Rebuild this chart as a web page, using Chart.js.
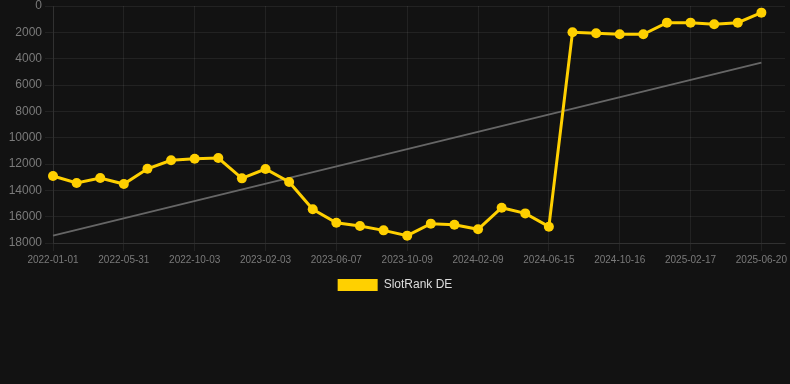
<!DOCTYPE html>
<html>
<head>
<meta charset="utf-8">
<script src="https://cdn.jsdelivr.net/npm/chart.js@4.4.0/dist/chart.umd.min.js"></script>
<style>
  html, body { margin: 0; padding: 0; background: #121212; }
  #wrap { width: 790px; height: 301px; position: relative; }
</style>
</head>
<body>
<div id="wrap"><canvas id="c"></canvas></div>
<script>
const dates = [
  "2022-01-01","2022-02-20","2022-04-11","2022-05-31","2022-07-11","2022-08-22",
  "2022-10-03","2022-11-13","2022-12-24","2023-02-03","2023-03-16","2023-04-27",
  "2023-06-07","2023-07-18","2023-08-29","2023-10-09","2023-11-19","2023-12-30",
  "2024-02-09","2024-03-21","2024-05-04","2024-06-15","2024-07-26","2024-09-05",
  "2024-10-16","2024-11-26","2025-01-07","2025-02-17","2025-03-30","2025-05-10",
  "2025-06-20","2025-07-31"
];
const slotRankDE = [
  12910, 13440, 13060, 13520, 12360, 11720, 11600, 11545, 13090, 12380, 13370, 15440,
  16460, 16710, 17040, 17440, 16530, 16610, 16960, 15320, 15750, 16760,
  2000, 2075, 2150, 2150, 1265, 1265, 1390, 1265, 505, null
];
const trendStart = 17440;
const trendEnd = 4300;
const trend = dates.map((d, i) => i === 0 ? trendStart : (i === 30 ? trendEnd : null));
const yTicks = [0, 2000, 4000, 6000, 8000, 10000, 12000, 14000, 16000, 18000];

const FONT = "'Liberation Sans', Arial, Helvetica, sans-serif";
const gridColor = 'rgba(255,255,255,0.07)';

new Chart(document.getElementById('c'), {
  type: 'line',
  data: {
    labels: dates,
    datasets: [
      {
        label: 'SlotRank DE',
        data: slotRankDE,
        borderColor: '#FFD000',
        backgroundColor: '#FFD000',
        borderWidth: 3,
        pointRadius: 5,
        pointHoverRadius: 5,
        pointBackgroundColor: '#FFD000',
        pointBorderColor: '#FFD000',
        pointBorderWidth: 0,
        tension: 0,
        spanGaps: false
      },
      {
        label: 'trend',
        data: trend,
        borderColor: '#666666',
        backgroundColor: '#666666',
        borderWidth: 2,
        pointRadius: 0,
        spanGaps: true,
        tension: 0
      }
    ]
  },
  options: {
    responsive: true,
    maintainAspectRatio: false,
    animation: false,
    layout: { padding: 0 },
    plugins: {
      legend: {
        position: 'bottom',
        labels: {
          color: '#dddddd',
          font: { family: FONT, size: 12 },
          boxWidth: 40,
          boxHeight: 12,
          filter: (item) => item.text === 'SlotRank DE',
          generateLabels: (chart) => {
            const items = Chart.defaults.plugins.legend.labels.generateLabels(chart);
            items.forEach(it => { it.lineWidth = 0; });
            return items;
          }
        }
      },
      tooltip: { enabled: false }
    },
    scales: {
      x: {
        type: 'category',
        offset: false,
        grid: {
          color: (ctx) => (ctx.index % 3 === 0 ? gridColor : 'rgba(0,0,0,0)'),
          drawTicks: true,
          tickLength: 8
        },
        border: { color: gridColor },
        ticks: {
          autoSkip: false,
          maxRotation: 0,
          minRotation: 0,
          color: '#7a7a7a',
          font: { family: FONT, size: 10 },
          callback: function(value, index) {
            return index % 3 === 0 && index <= 30 ? dates[index] : '';
          }
        }
      },
      y: {
        reverse: true,
        min: yTicks[0],
        max: yTicks[yTicks.length - 1],
        afterBuildTicks: (axis) => { axis.ticks = yTicks.map(v => ({ value: v })); },
        afterFit: (axis) => { axis.width = 53; },
        grid: { color: gridColor, tickLength: 8 },
        border: { color: gridColor },
        ticks: {
          color: '#7a7a7a',
          font: { family: FONT, size: 12, lineHeight: 0.5 },
          padding: 3,
          callback: (v) => String(v)
        }
      }
    }
  }
});
</script>
</body>
</html>
